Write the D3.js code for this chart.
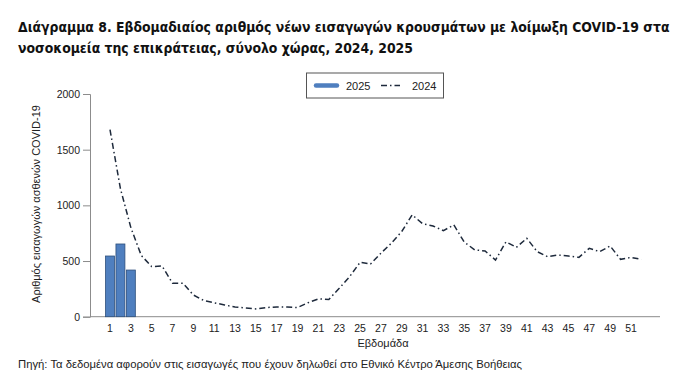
<!DOCTYPE html>
<html>
<head>
<meta charset="utf-8">
<script src="https://cdn.jsdelivr.net/npm/d3@7"></script>
<style>
  body { margin: 0; background: #fff; }
  svg { display: block; }
</style>
</head>
<body>
<div id="chart"></div>
<script>
var svgWidth = 686;
var svgHeight = 382;

// week numbers
var weeks = d3.range(1, 53);
var tickWeeks = weeks.filter(w => w % 2 === 1);
var yTicks = [0, 500, 1000, 1500, 2000];

// 2025 (bars), only first 3 weeks
var weeks2025 = [1, 2, 3];
var values2025 = [545, 653, 419];

// 2024 (dash-dot line)
var values2024 = [1680, 1150, 800, 550, 450, 455, 300, 300, 195, 145,
  125, 105, 88, 78, 70, 82, 88, 86, 82, 125,
  160, 155, 255, 360, 488, 473, 570, 660, 765, 915,
  835, 815, 773, 824, 670, 600, 590, 509, 672, 623,
  704, 584, 539, 554, 545, 533, 614, 584, 635, 515,
  533, 515];

var titleLines = [
  "Διάγραμμα 8. Εβδομαδιαίος αριθμός νέων εισαγωγών κρουσμάτων με λοίμωξη COVID-19 στα",
  "νοσοκομεία της επικράτειας, σύνολο χώρας, 2024, 2025"
];
var sourceText = "Πηγή: Τα δεδομένα αφορούν στις εισαγωγές που έχουν δηλωθεί στο Εθνικό Κέντρο Άμεσης Βοήθειας";

var svg = d3.select("#chart")
  .append("svg")
  .attr("width", svgWidth)
  .attr("height", svgHeight);

// title - size it so first line fills the width, same size for line 2
var titleFont = "'DejaVu Sans Condensed', 'DejaVu Sans', sans-serif";
var t1 = svg.append("text")
  .attr("x", 18).attr("y", 32)
  .attr("font-family", titleFont)
  .attr("font-weight", "bold")
  .attr("font-size", "14px")
  .attr("fill", "#111")
  .text(titleLines[0]);
var fitSize = 14 * 652 / t1.node().getComputedTextLength();
t1.attr("font-size", fitSize + "px");

svg.append("text")
  .attr("x", 18).attr("y", 53)
  .attr("font-family", titleFont)
  .attr("font-weight", "bold")
  .attr("font-size", fitSize + "px")
  .attr("fill", "#111")
  .text(titleLines[1]);

// scales
var x = d3.scaleBand()
  .domain(weeks)
  .range([104.8, 646.6])
  .paddingInner(0.14)
  .paddingOuter(0.07);

var y = d3.scaleLinear()
  .domain([0, 2000])
  .range([316.7, 94]);

var xc = d => x(d) + x.bandwidth() / 2;

// axes
var leftAxis = d3.axisLeft(y).tickValues(yTicks).tickFormat(d3.format("d"))
  .tickSize(7).tickPadding(3);
var yG = svg.append("g")
  .attr("transform", "translate(90,0)")
  .call(leftAxis);
yG.select(".domain").attr("stroke", "#8c8c8c");
yG.selectAll(".tick line").attr("stroke", "#8c8c8c");
yG.selectAll(".tick text")
  .attr("font-family", "'Liberation Sans', Arial, sans-serif")
  .attr("font-size", "10.5px")
  .attr("fill", "#222");

var bottomAxis = d3.axisBottom(x).tickValues(tickWeeks).tickSize(0).tickPadding(8);
var xG = svg.append("g")
  .attr("transform", "translate(0,316.7)")
  .call(bottomAxis);
xG.select(".domain").remove();
xG.selectAll(".tick text")
  .attr("font-family", "'Liberation Sans', Arial, sans-serif")
  .attr("font-size", "10.5px")
  .attr("fill", "#222");

svg.append("line")
  .attr("x1", 90).attr("x2", 660)
  .attr("y1", y(0)).attr("y2", y(0))
  .attr("stroke", "#8c8c8c");

// bars 2025
svg.selectAll(".bar")
  .data(weeks2025)
  .enter()
  .append("rect")
  .attr("class", "bar")
  .attr("x", d => x(d))
  .attr("width", x.bandwidth())
  .attr("y", (d, i) => y(values2025[i]))
  .attr("height", (d, i) => y(0) - y(values2025[i]))
  .attr("fill", "#4f7fbf")
  .attr("stroke", "#2d4f7c")
  .attr("stroke-width", 0.8);

// line 2024
var line = d3.line()
  .x((d, i) => xc(weeks[i]))
  .y(d => y(d));

svg.append("path")
  .datum(values2024)
  .attr("d", line)
  .attr("fill", "none")
  .attr("stroke", "#1e2a3c")
  .attr("stroke-width", 1.5)
  .attr("stroke-dasharray", "6,3,1.5,3");

// axis titles
svg.append("text")
  .attr("transform", "translate(40,204) rotate(-90)")
  .attr("text-anchor", "middle")
  .attr("font-family", "'Liberation Sans', Arial, sans-serif")
  .attr("font-size", "11px")
  .attr("fill", "#222")
  .text("Αριθμός εισαγωγών ασθενών COVID-19");

svg.append("text")
  .attr("x", 383).attr("y", 347)
  .attr("text-anchor", "middle")
  .attr("font-family", "'Liberation Sans', Arial, sans-serif")
  .attr("font-size", "11px")
  .attr("fill", "#222")
  .text("Εβδομάδα");

// legend
var legend = svg.append("g");
legend.append("rect")
  .attr("x", 306.5).attr("y", 73)
  .attr("width", 137).attr("height", 25)
  .attr("fill", "#fff")
  .attr("stroke", "#555")
  .attr("stroke-width", 1);
legend.append("line")
  .attr("x1", 316).attr("x2", 337)
  .attr("y1", 85.5).attr("y2", 85.5)
  .attr("stroke", "#4f7fbf")
  .attr("stroke-width", 4.5)
  .attr("stroke-linecap", "round");
legend.append("text")
  .attr("x", 346).attr("y", 89.5)
  .attr("font-family", "'Liberation Sans', Arial, sans-serif")
  .attr("font-size", "11px")
  .attr("fill", "#222")
  .text("2025");
legend.append("line")
  .attr("x1", 381).attr("x2", 400)
  .attr("y1", 85.5).attr("y2", 85.5)
  .attr("stroke", "#1e2a3c")
  .attr("stroke-width", 1.5)
  .attr("stroke-dasharray", "6,3,1.5,3");
legend.append("text")
  .attr("x", 412).attr("y", 89.5)
  .attr("font-family", "'Liberation Sans', Arial, sans-serif")
  .attr("font-size", "11px")
  .attr("fill", "#222")
  .text("2024");

// source
svg.append("text")
  .attr("x", 18).attr("y", 368)
  .attr("font-family", "'Liberation Sans', Arial, sans-serif")
  .attr("font-size", "11px")
  .attr("textLength", 504)
  .attr("lengthAdjust", "spacingAndGlyphs")
  .attr("fill", "#222")
  .text(sourceText);
</script>
</body>
</html>
